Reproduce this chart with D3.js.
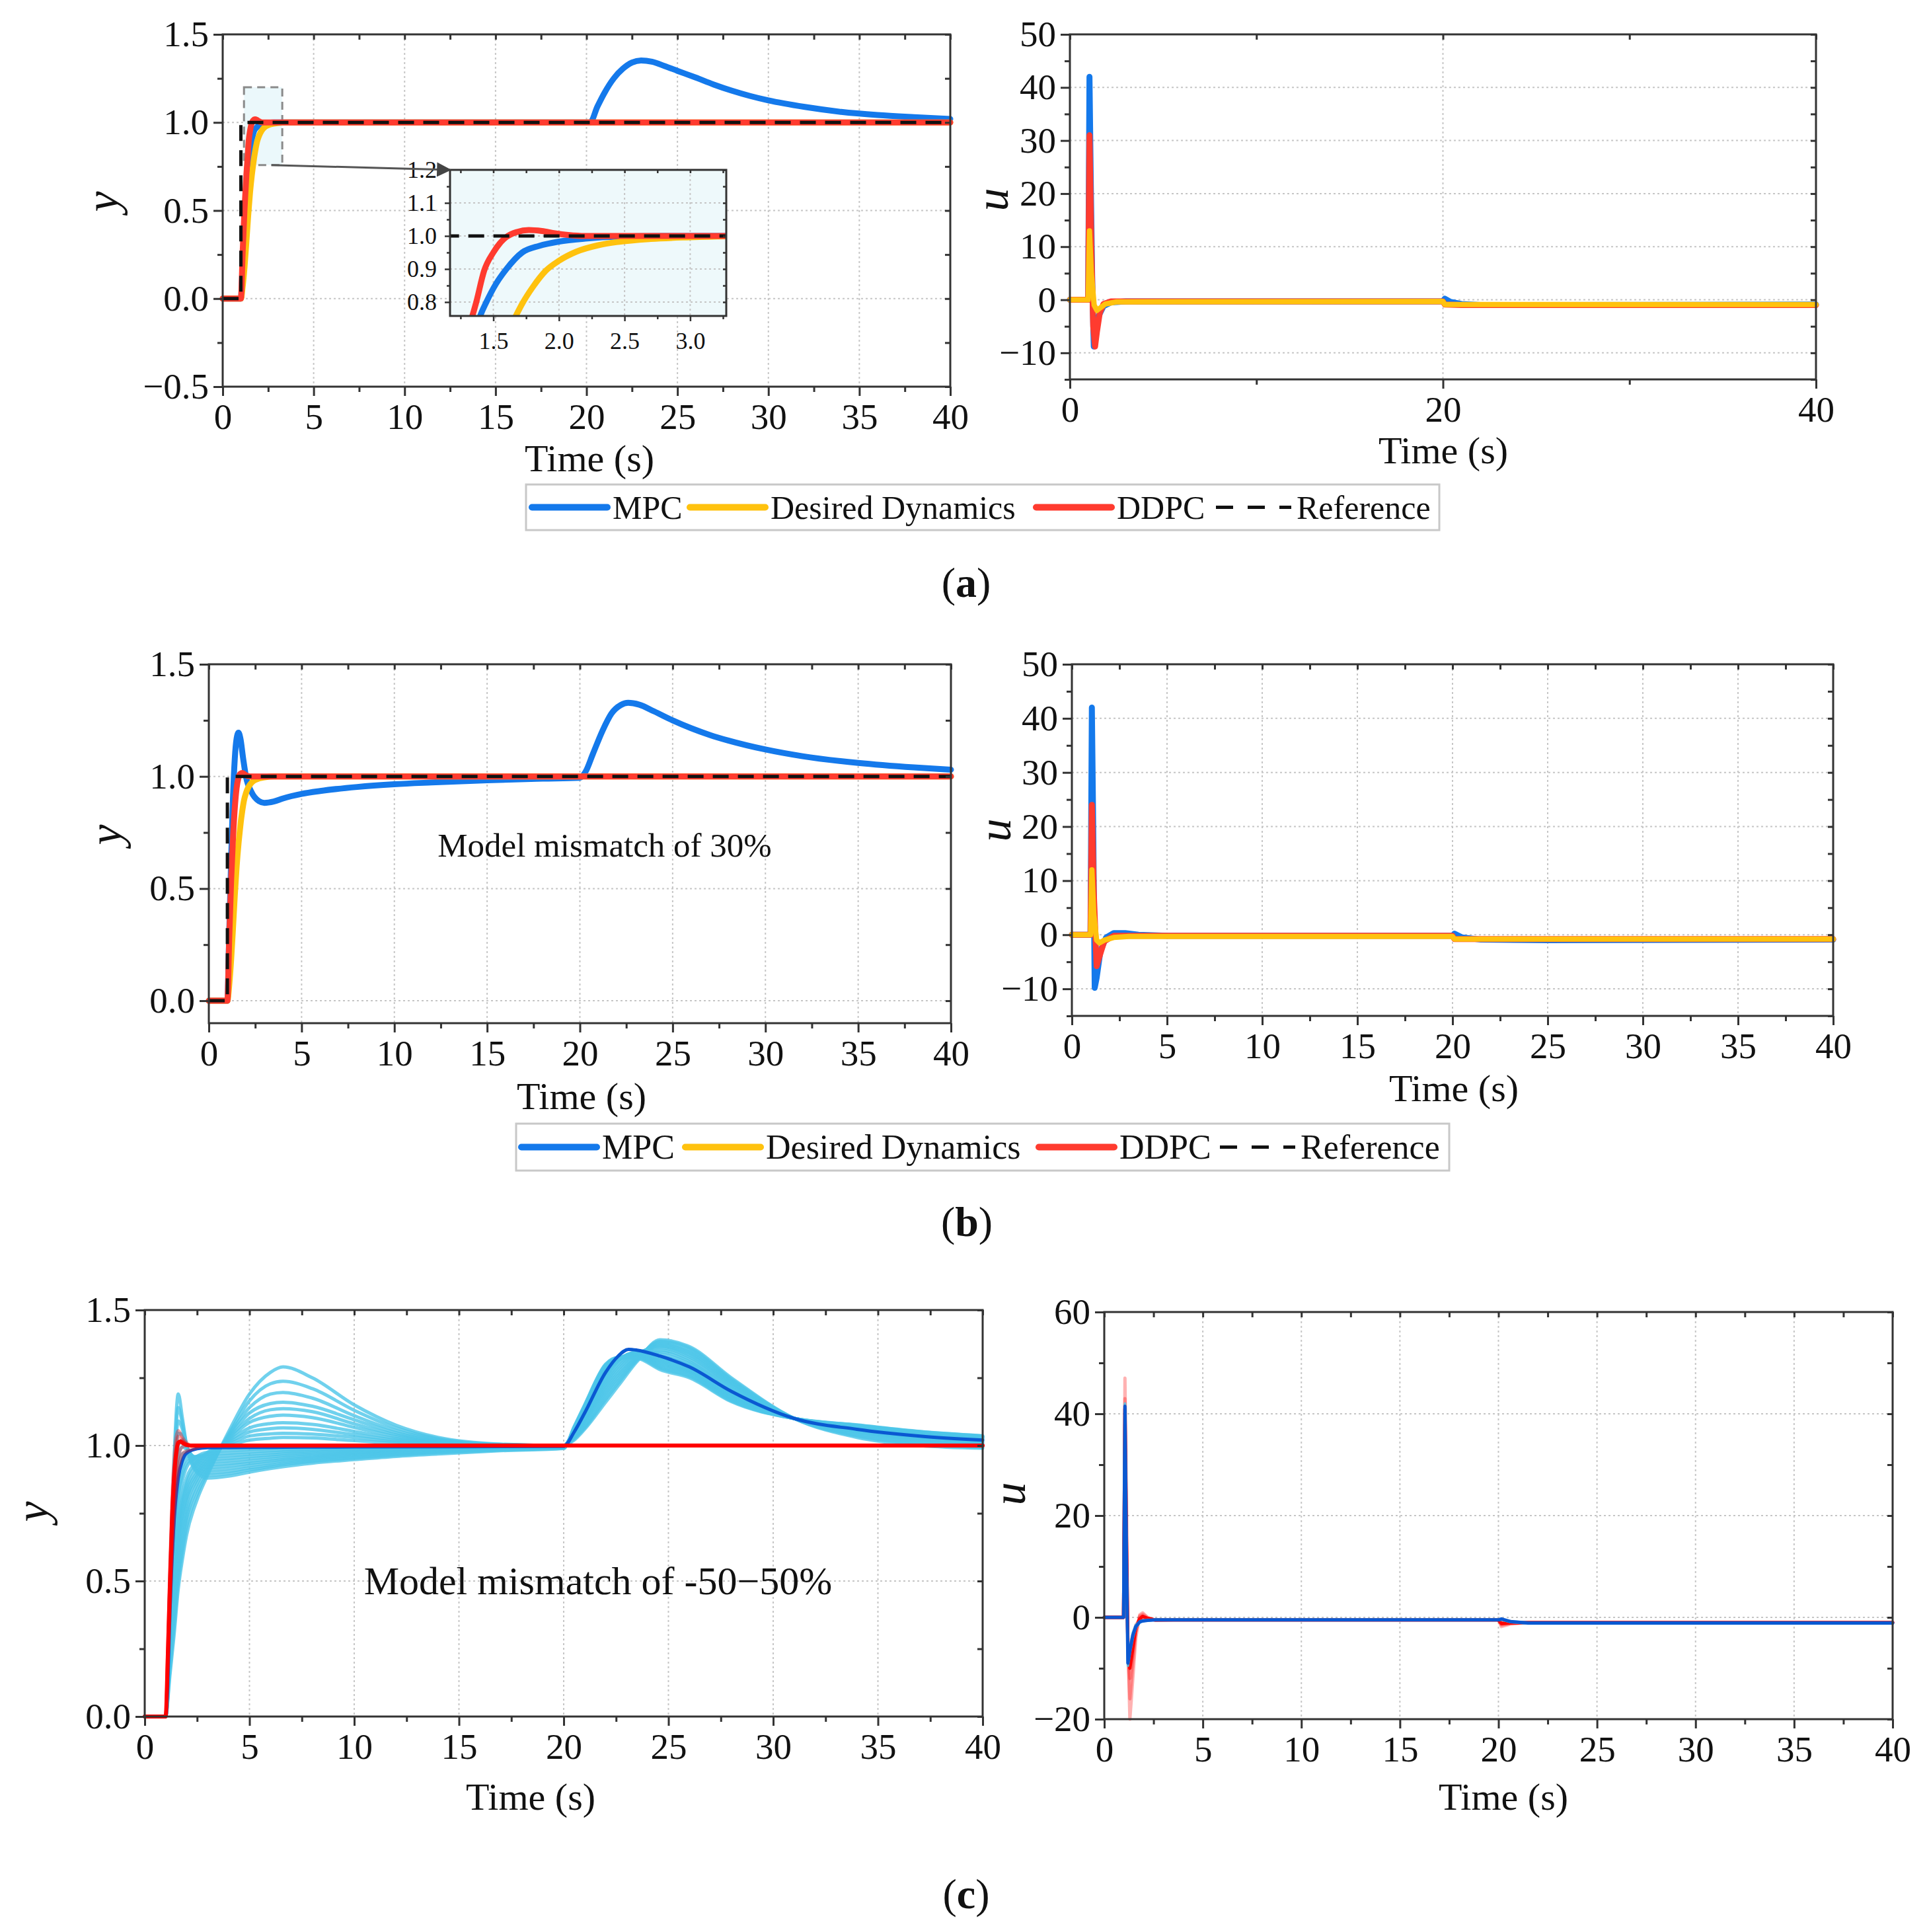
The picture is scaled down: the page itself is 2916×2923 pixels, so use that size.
<!DOCTYPE html>
<html>
<head>
<meta charset="utf-8">
<script src="https://cdn.jsdelivr.net/npm/d3@7"></script>
<style>
  body { margin: 0; background: #fff; }
  svg { display: block; }
</style>
</head>
<body>
<div id="chart"></div>
<script>
// ---------------------------------------------
// ---------          Data             ---------
// ---------------------------------------------

const legendNames = ["MPC", "Desired Dynamics", "DDPC", "Reference"];
const refStep = [[0, 0], [1, 0], [1, 1], [40, 1]];

// (a) output y
const aMpcY = [[0,0],[1,0],[1.1,0.2],[1.2,0.41],[1.3,0.6],[1.4,0.758],[1.447,0.8],[1.52,0.855],[1.6,0.9],[1.72,0.95],
  [1.85,0.97],[2.0,0.983],[2.2,0.992],[2.45,0.998],[2.8,1.0],[20,1.0],[20.2,1.0],[20.6,1.09],[21,1.17],[21.5,1.25],
  [22,1.305],[22.5,1.34],[23,1.352],[23.6,1.345],[24.3,1.32],[25,1.293],[26,1.255],[27,1.215],[28,1.18],[29,1.15],
  [30,1.125],[32,1.088],[34,1.06],[36,1.042],[38,1.03],[40,1.02]];
const aDesY = [[0,0],[1,0],[1.1,0.07],[1.2,0.18],[1.3,0.32],[1.4,0.47],[1.5,0.6],[1.6,0.7],[1.67,0.757],[1.72,0.795],
  [1.8,0.845],[1.9,0.895],[2.0,0.925],[2.13,0.952],[2.3,0.972],[2.45,0.982],[2.7,0.991],[3.0,0.996],[3.5,1.0],[40,1.0]];
const aDdpcY = [[0,0],[1,0],[1.1,0.27],[1.2,0.51],[1.3,0.7],[1.37,0.8],[1.43,0.895],[1.5,0.95],[1.55,0.978],[1.6,0.997],
  [1.68,1.012],[1.77,1.018],[1.87,1.015],[1.97,1.008],[2.07,1.003],[2.2,1.0],[40,1.0]];

// (a) input u
const aMpcU = [[0,0],[0.98,0],[1.05,42],[1.12,22],[1.2,3],[1.28,-8.8],[1.38,-7],[1.55,-3],[1.8,-1.2],[2.2,-0.5],[3,-0.3],
  [20,-0.3],[20.1,0.2],[20.4,-0.4],[21,-0.8],[22,-1.0],[25,-1.0],[40,-0.9]];
const aDdpcU = [[0,0],[0.98,0],[1.05,31],[1.15,10],[1.25,-5],[1.35,-8.8],[1.45,-6],[1.6,-2.5],[1.8,-0.8],[2.2,-0.3],
  [20,-0.3],[20.1,-0.9],[21,-1.0],[40,-1.0]];
const aDesU = [[0,0],[0.98,0],[1.05,13],[1.15,5],[1.3,-1.0],[1.45,-2.0],[1.6,-1.6],[1.9,-0.8],[2.5,-0.4],[20,-0.3],
  [20.1,-0.9],[40,-0.9]];

// (b) output y (30% mismatch)
const bMpcY = [[0,0],[1,0],[1.1,0.3],[1.2,0.62],[1.3,0.9],[1.4,1.08],[1.5,1.17],[1.6,1.195],[1.7,1.17],[1.85,1.08],
  [2.0,1.0],[2.3,0.93],[2.7,0.89],[3.0,0.882],[3.5,0.888],[4,0.902],[5,0.922],[6,0.935],[8,0.953],[10,0.965],[12,0.973],
  [15,0.983],[18,0.99],[20,0.994],[20.3,1.02],[20.7,1.1],[21.2,1.2],[21.7,1.28],[22.2,1.318],[22.6,1.328],[23.2,1.32],
  [24,1.29],[25,1.25],[26,1.215],[27,1.185],[28,1.16],[30,1.12],[32,1.09],[35,1.06],[38,1.04],[40,1.03]];
const bDesY = aDesY;
const bDdpcY = [[0,0],[1,0],[1.1,0.28],[1.2,0.53],[1.3,0.72],[1.4,0.86],[1.5,0.95],[1.6,0.995],[1.7,1.012],[1.8,1.015],
  [1.95,1.008],[2.1,1.002],[2.3,1.0],[40,1.0]];

// (b) input u
const bMpcU = [[0,0],[0.98,0],[1.05,42],[1.12,20],[1.2,-9.8],[1.3,-8],[1.5,-3],[1.8,-0.5],[2.2,0.3],[2.8,0.3],[3.5,0],
  [5,-0.2],[20,-0.2],[20.1,0.2],[20.5,-0.5],[21.5,-0.9],[25,-1.0],[40,-0.9]];
const bDdpcU = [[0,0],[0.98,0],[1.05,24],[1.15,8],[1.3,-5.8],[1.45,-4],[1.7,-1.2],[2.2,-0.2],[3,-0.2],[20,-0.2],
  [20.1,-0.8],[40,-0.8]];
const bDesU = [[0,0],[0.98,0],[1.05,12],[1.15,4],[1.3,-1],[1.45,-1.5],[1.7,-1.0],[2.2,-0.5],[3,-0.3],[20,-0.3],
  [20.1,-0.8],[40,-0.8]];

// (c) output y, MPC with mismatch -50..50% (one row per case)
const cTimes = [0,1,1.2,1.4,1.6,1.8,2,2.5,3,4,5,6,6.6,8,10,12,14,17,20,20.5,21,22,22.6,23.5,24.6,26,28,31,34,37,40];
const cMpcFamily = [
  [0,0,.15,.30,.47,.58,.67,.80,.89,1.05,1.19,1.27,1.29,1.25,1.15,1.075,1.03,1.005,1.0, 1.02,1.06,1.16,1.22,1.31,1.39,1.365,1.25,1.10,1.03,1.0,0.99],
  [0,0,.17,.33,.50,.61,.70,.82,.90,1.04,1.165,1.228,1.237,1.21,1.13,1.065,1.026,1.004,1.0, 1.025,1.065,1.17,1.23,1.315,1.385,1.36,1.245,1.10,1.035,1.005,0.993],
  [0,0,.19,.36,.53,.64,.73,.84,.91,1.035,1.14,1.19,1.196,1.175,1.11,1.055,1.022,1.003,1.0, 1.028,1.07,1.18,1.24,1.32,1.38,1.353,1.24,1.10,1.04,1.01,0.996],
  [0,0,.21,.39,.56,.67,.75,.86,.92,1.03,1.12,1.155,1.16,1.145,1.095,1.047,1.018,1.002,1.0, 1.03,1.078,1.19,1.25,1.325,1.375,1.346,1.235,1.10,1.045,1.015,1.0],
  [0,0,.23,.42,.59,.70,.78,.875,.93,1.025,1.1,1.132,1.136,1.125,1.08,1.04,1.015,1.002,1.0, 1.033,1.085,1.20,1.26,1.33,1.37,1.34,1.23,1.10,1.05,1.02,1.004],
  [0,0,.25,.45,.62,.73,.80,.89,.94,1.02,1.085,1.108,1.112,1.103,1.067,1.033,1.012,1.001,1.0, 1.036,1.09,1.21,1.27,1.335,1.365,1.333,1.225,1.10,1.053,1.024,1.008],
  [0,0,.27,.48,.65,.75,.82,.90,.95,1.015,1.065,1.081,1.084,1.078,1.052,1.026,1.01,1.001,1.0, 1.04,1.097,1.22,1.28,1.34,1.36,1.326,1.22,1.10,1.056,1.028,1.012],
  [0,0,.29,.51,.67,.78,.84,.915,.96,1.01,1.05,1.062,1.065,1.06,1.04,1.02,1.008,1.0,1.0, 1.043,1.103,1.23,1.29,1.342,1.352,1.318,1.213,1.10,1.059,1.031,1.015],
  [0,0,.31,.54,.70,.80,.86,.93,.97,1.005,1.035,1.043,1.045,1.042,1.03,1.014,1.006,1.0,1.0, 1.046,1.11,1.24,1.30,1.344,1.345,1.31,1.207,1.10,1.062,1.034,1.018],
  [0,0,.33,.57,.72,.82,.88,.94,.975,1.0,1.02,1.027,1.03,1.028,1.018,1.009,1.003,1.0,1.0, 1.05,1.115,1.25,1.31,1.345,1.338,1.303,1.2,1.10,1.064,1.037,1.021],
  [0,0,.35,.62,.78,.87,.92,.96,.975,.982,.986,.989,.99,.993,.995,.997,.998,.999,1.0, 1.053,1.12,1.26,1.315,1.343,1.33,1.295,1.193,1.10,1.066,1.04,1.024],
  [0,0,.365,.65,.815,.895,.935,.96,.967,.972,.977,.981,.983,.987,.99,.993,.995,.997,.999, 1.054,1.123,1.265,1.316,1.342,1.325,1.291,1.19,1.10,1.067,1.041,1.025],
  [0,0,.38,.68,.85,.92,.95,.96,.96,.963,.968,.973,.976,.981,.986,.99,.993,.996,.998, 1.056,1.127,1.27,1.318,1.34,1.32,1.287,1.187,1.10,1.068,1.043,1.027],
  [0,0,.395,.715,.885,.945,.962,.955,.95,.953,.96,.965,.969,.975,.981,.986,.99,.994,.997, 1.058,1.13,1.275,1.319,1.338,1.315,1.283,1.184,1.10,1.069,1.045,1.029],
  [0,0,.41,.75,.92,.97,.975,.95,.94,.944,.951,.958,.962,.969,.976,.982,.987,.992,.996, 1.06,1.133,1.28,1.32,1.336,1.31,1.278,1.18,1.10,1.07,1.046,1.03],
  [0,0,.425,.785,.96,.995,.985,.943,.93,.934,.942,.95,.955,.963,.972,.979,.984,.99,.994, 1.062,1.137,1.285,1.321,1.334,1.305,1.274,1.177,1.10,1.071,1.047,1.031],
  [0,0,.44,.82,1.0,1.02,.995,.935,.92,.925,.934,.943,.948,.957,.967,.975,.981,.988,.993, 1.063,1.14,1.29,1.322,1.332,1.30,1.27,1.174,1.10,1.072,1.048,1.032],
  [0,0,.455,.85,1.045,1.04,.998,.925,.91,.915,.926,.936,.942,.952,.963,.972,.979,.987,.992, 1.065,1.143,1.292,1.322,1.33,1.295,1.265,1.171,1.10,1.073,1.049,1.033],
  [0,0,.47,.88,1.09,1.06,1.0,.915,.90,.905,.917,.928,.935,.946,.958,.968,.976,.985,.991, 1.066,1.145,1.295,1.323,1.327,1.29,1.26,1.168,1.10,1.074,1.05,1.034],
  [0,0,.485,.915,1.14,1.08,1.0,.907,.89,.896,.91,.922,.929,.941,.953,.964,.973,.983,.99, 1.068,1.148,1.298,1.324,1.325,1.285,1.255,1.165,1.10,1.075,1.051,1.035],
  [0,0,.50,.95,1.19,1.10,1.0,.90,.88,.887,.902,.915,.922,.935,.948,.96,.969,.981,.989, 1.07,1.15,1.30,1.325,1.322,1.28,1.25,1.162,1.10,1.076,1.052,1.036]
];
const cMpcNominalY = [[0,0],[1,0],[1.1,0.12],[1.2,0.38],[1.4,0.72],[1.6,0.88],[1.8,0.945],[2,0.972],[2.5,0.988],[3,0.992],
  [10,0.995],[20,0.997],[20.5,1.05],[21,1.12],[22,1.27],[22.6,1.33],[23.1,1.355],[23.5,1.352],[24.6,1.33],[26,1.29],
  [28,1.2],[31,1.1],[34,1.06],[37,1.035],[40,1.02]];
const cDdpcTimes = [0,1,1.1,1.2,1.3,1.4,1.5,1.6,1.7,1.8,2.0,2.2,2.5,3,20,40];
const cDdpcFamily = [
  [0,0,0.25,0.55,0.8,0.95,1.03,1.055,1.045,1.03,1.01,1.0,1.0,1.0,1.0,1.0],
  [0,0,0.23,0.5,0.75,0.9,0.99,1.035,1.03,1.02,1.005,1.0,1.0,1.0,1.0,1.0],
  [0,0,0.21,0.46,0.7,0.86,0.95,1.0,1.015,1.015,1.005,1.0,1.0,1.0,1.0,1.0],
  [0,0,0.19,0.42,0.64,0.8,0.9,0.96,0.985,0.995,1.0,1.0,1.0,1.0,1.0,1.0],
  [0,0,0.17,0.38,0.58,0.73,0.84,0.91,0.95,0.97,0.98,0.985,0.992,0.998,1.0,1.0]
];
const cDdpcNominalY = [0,0,0.22,0.48,0.72,0.88,0.97,1.01,1.015,1.01,1.002,1.0,1.0,1.0,1.0,1.0];

// (c) input u
const cUTimes = [0,0.98,1.05,1.12,1.2,1.3,1.45,1.6,1.8,1.95,2.2,2.6,3.5,20,20.15,20.6,21.5,40];
const cDdpcUFamily = [
  [0,0,47,25,-5,-20,-12,-4,0.5,0.9,0,-0.6,-0.5,-0.5,-1.8,-1.3,-1.0,-1.0],
  [0,0,43,20,-6,-16,-9,-3,0.3,0.6,-0.1,-0.6,-0.5,-0.5,-1.5,-1.2,-1.0,-1.0],
  [0,0,38,16,-6,-12,-7,-2.5,0,0.3,-0.2,-0.5,-0.5,-0.5,-1.3,-1.1,-1.0,-1.0],
  [0,0,33,12,-6,-9,-5,-2,-0.3,0,-0.3,-0.5,-0.5,-0.5,-1.1,-1.0,-1.0,-1.0],
  [0,0,29,9,-5,-7,-4,-1.5,-0.5,-0.3,-0.4,-0.5,-0.5,-0.5,-1.0,-1.0,-1.0,-1.0]
];
const cDdpcNominalU = [0,0,41,17,-6,-10,-6,-2,-0.3,0.2,-0.2,-0.5,-0.5,-0.5,-1.2,-1.1,-1.0,-1.0];
const cMpcUFamily = [
  [0,0,42,15,-9.5,-7,-4,-2,-1,-0.7,-0.6,-0.5,-0.5,-0.5,-0.4,-0.9,-1.2,-1.2],
  [0,0,41,14,-9,-6.5,-3.5,-1.8,-0.9,-0.7,-0.6,-0.5,-0.5,-0.5,-0.4,-0.9,-1.1,-1.1],
  [0,0,40,13,-8.5,-6,-3,-1.5,-0.8,-0.6,-0.5,-0.5,-0.5,-0.5,-0.4,-0.8,-1.0,-1.0]
];
const cMpcNominalU = [0,0,41.5,14,-9,-6.5,-3.5,-1.8,-0.9,-0.7,-0.6,-0.5,-0.5,-0.5,-0.3,-0.8,-1.1,-1.1];

// tick values
const timeTicks5 = [0,5,10,15,20,25,30,35,40];
const timeMinor = [2.5,7.5,12.5,17.5,22.5,27.5,32.5,37.5];
const timeGrid = [5,10,15,20,25,30,35];
const uTicks = [-10,0,10,20,30,40,50];
const uMinor = [-15,-5,5,15,25,35,45];
const uGrid = [-10,0,10,20,30,40];

// ---------------------------------------------
// ---------    Basic Chart Layout      --------
// ---------------------------------------------

const SERIF = '"Liberation Serif","Times New Roman",serif';
const col = { mpc: "#1479eb", des: "#ffc20e", ddpc: "#ff3b2f", ref: "#111111",
              cyan: "#4cc6e8", darkBlue: "#0a58d2", red: "#ff0000" };
const legendColors = [col.mpc, col.des, col.ddpc, col.ref];

const svg = d3.select("#chart").append("svg")
  .attr("width", 2916).attr("height", 2923)
  .style("background", "#fff");
const defs = svg.append("defs");

function makePanel(box, xd, yd, o) {
  const w = box.r - box.l, h = box.b - box.t;
  const g = svg.append("g").attr("transform", "translate(" + box.l + "," + box.t + ")");
  const x = d3.scaleLinear().domain(xd).range([0, w]);
  const y = d3.scaleLinear().domain(yd).range([h, 0]);
  if (o.bg) g.append("rect").attr("width", w).attr("height", h).attr("fill", o.bg);
  const grid = g.append("g")
    .attr("stroke", "#c6c6c6").attr("stroke-width", o.gw || 2).attr("stroke-dasharray", "3,4");
  grid.selectAll(".gx").data(o.xGrid).join("line").attr("class", "gx")
    .attr("x1", d => x(d)).attr("x2", d => x(d)).attr("y1", 0).attr("y2", h);
  grid.selectAll(".gy").data(o.yGrid).join("line").attr("class", "gy")
    .attr("y1", d => y(d)).attr("y2", d => y(d)).attr("x1", 0).attr("x2", w);
  const layer = g.append("g");
  if (o.clip) {
    defs.append("clipPath").attr("id", o.clip).append("rect").attr("width", w).attr("height", h);
    layer.attr("clip-path", "url(#" + o.clip + ")");
  }
  return { g, x, y, w, h, o, layer, box };
}

function finishPanel(P) {
  const { g, x, y, w, h, o } = P;
  const big = o.tick || 14, small = o.minor || 8, fs = o.fs || 55;
  const ax = g.append("g");
  ax.append("g").attr("transform", "translate(0," + h + ")")
    .call(d3.axisBottom(x).tickValues(o.xMinor).tickSize(small).tickFormat(""));
  ax.append("g").attr("transform", "translate(0," + h + ")")
    .call(d3.axisBottom(x).tickValues(o.xMajor).tickSize(big).tickPadding(o.padX || 11).tickFormat(o.fx));
  ax.append("g").call(d3.axisLeft(y).tickValues(o.yMinor).tickSize(small).tickFormat(""));
  ax.append("g").call(d3.axisLeft(y).tickValues(o.yMajor).tickSize(big).tickPadding(o.padY || 7).tickFormat(o.fy));
  ax.append("g").call(d3.axisTop(x).tickValues(o.xMajor.concat(o.xMinor)).tickSize(-small).tickFormat(""));
  ax.append("g").attr("transform", "translate(" + w + ",0)")
    .call(d3.axisRight(y).tickValues(o.yMajor.concat(o.yMinor)).tickSize(-small).tickFormat(""));
  ax.selectAll(".domain").remove();
  ax.selectAll(".tick line").attr("stroke", "#333").attr("stroke-width", o.tw || 3);
  ax.selectAll(".tick text").attr("font-size", fs).attr("font-family", SERIF).attr("fill", "#111");
  g.append("rect").attr("width", w).attr("height", h)
    .attr("fill", "none").attr("stroke", "#333").attr("stroke-width", o.fw || 3);
}

function drawLine(P, data, color, width, opt) {
  opt = opt || {};
  const line = d3.line()
    .x(d => P.x(d[0])).y(d => P.y(d[1]))
    .curve(opt.linear ? d3.curveLinear : d3.curveMonotoneX);
  return P.layer.append("path").datum(data)
    .attr("d", line)
    .attr("fill", "none")
    .attr("stroke", color)
    .attr("stroke-width", width)
    .attr("stroke-opacity", opt.op == null ? 1 : opt.op)
    .attr("stroke-linejoin", "round")
    .attr("stroke-linecap", opt.dash ? "butt" : "round")
    .attr("stroke-dasharray", opt.dash || null);
}

function rows(times, vals) {
  return times.map((t, i) => [t, vals[i]]);
}

function label(x, y, s, fs, opt) {
  opt = opt || {};
  const t = svg.append("text")
    .attr("x", x).attr("y", y)
    .attr("font-size", fs).attr("font-family", SERIF).attr("fill", "#111")
    .attr("text-anchor", opt.anchor || "middle")
    .text(s);
  if (opt.italic) t.attr("font-style", "italic");
  if (opt.rot) t.attr("transform", "rotate(-90," + x + "," + y + ")");
  return t;
}

function drawLegend(box, offs, fs) {
  const w = box.r - box.l, h = box.b - box.t, cy = h / 2;
  const g = svg.append("g").attr("transform", "translate(" + box.l + "," + box.t + ")");
  g.append("rect").attr("width", w).attr("height", h)
    .attr("fill", "#fff").attr("stroke", "#c8c8c8").attr("stroke-width", 3);
  legendNames.forEach((name, i) => {
    const isRef = i === 3;
    g.append("line")
      .attr("x1", offs[i]).attr("x2", offs[i] + 114).attr("y1", cy).attr("y2", cy)
      .attr("stroke", legendColors[i])
      .attr("stroke-width", isRef ? 5 : 10)
      .attr("stroke-linecap", isRef ? "butt" : "round")
      .attr("stroke-dasharray", isRef ? "26,22" : null);
    g.append("text")
      .attr("x", offs[i] + 122).attr("y", cy + fs * 0.34)
      .attr("font-size", fs).attr("font-family", SERIF).attr("fill", "#111")
      .text(name);
  });
}

const f1 = d3.format(".1f");
const f0 = d3.format("d");
const DASH = "24,14";

// ---------------------------------------------
// ---------       Panel (a)            --------
// ---------------------------------------------

const aL = makePanel({ l: 337, r: 1438, t: 52, b: 585 }, [0, 40], [-0.5, 1.5], {
  xMajor: timeTicks5, xMinor: timeMinor, xGrid: timeGrid,
  yMajor: [-0.5, 0, 0.5, 1, 1.5], yMinor: [-0.25, 0.25, 0.75, 1.25], yGrid: [0, 0.5, 1],
  fx: f0, fy: f1
});
// zoom window
const zoomX = [1.17, 3.275], zoomY = [0.758, 1.2];
aL.layer.append("rect")
  .attr("x", aL.x(zoomX[0])).attr("y", aL.y(zoomY[1]))
  .attr("width", aL.x(zoomX[1]) - aL.x(zoomX[0])).attr("height", aL.y(zoomY[0]) - aL.y(zoomY[1]))
  .attr("fill", "#e6f6fa").attr("fill-opacity", 0.8)
  .attr("stroke", "#8a8a8a").attr("stroke-width", 3).attr("stroke-dasharray", "12,8");
drawLine(aL, aMpcY, col.mpc, 9);
drawLine(aL, aDesY, col.des, 9);
drawLine(aL, aDdpcY, col.ddpc, 9);
drawLine(aL, refStep, col.ref, 5, { linear: true, dash: DASH });
finishPanel(aL);

// inset
const ins = makePanel({ l: 681, r: 1099, t: 257, b: 478 }, zoomX, zoomY, {
  bg: "#eef9fb", clip: "insetClip",
  xMajor: [1.5, 2, 2.5, 3], xMinor: [1.25, 1.75, 2.25, 2.75, 3.25], xGrid: [1.5, 2, 2.5, 3],
  yMajor: [0.8, 0.9, 1.0, 1.1, 1.2], yMinor: [0.85, 0.95, 1.05, 1.15], yGrid: [0.8, 0.9, 1.0, 1.1],
  fx: f1, fy: f1, fs: 36, tick: 8, minor: 5, padX: 16, padY: 12, tw: 2.5
});
drawLine(ins, aMpcY, col.mpc, 9);
drawLine(ins, aDesY, col.des, 9);
drawLine(ins, aDdpcY, col.ddpc, 9);
drawLine(ins, refStep, col.ref, 5, { linear: true, dash: DASH });
finishPanel(ins);

// arrow from zoom window to inset
defs.append("marker").attr("id", "arrowHead")
  .attr("viewBox", "0 0 10 10").attr("refX", 9).attr("refY", 5)
  .attr("markerWidth", 30).attr("markerHeight", 22).attr("orient", "auto").attr("markerUnits", "userSpaceOnUse")
  .append("path").attr("d", "M0,0 L10,5 L0,10 z").attr("fill", "#444");
svg.append("line")
  .attr("x1", aL.box.l + aL.x(2.67)).attr("y1", aL.box.t + aL.y(zoomY[0]))
  .attr("x2", ins.box.l).attr("y2", ins.box.t)
  .attr("stroke", "#555").attr("stroke-width", 3)
  .attr("marker-end", "url(#arrowHead)");

const aR = makePanel({ l: 1619, r: 2748, t: 52, b: 574 }, [0, 40], [-15, 50], {
  xMajor: [0, 20, 40], xMinor: [10, 30], xGrid: [20],
  yMajor: uTicks, yMinor: uMinor, yGrid: uGrid,
  fx: f0, fy: f0
});
drawLine(aR, aMpcU, col.mpc, 9, { linear: true });
drawLine(aR, aDdpcU, col.ddpc, 9, { linear: true });
drawLine(aR, aDesU, col.des, 8, { linear: true });
finishPanel(aR);

drawLegend({ l: 796, r: 2178, t: 733, b: 802 }, [9, 248, 772, 1044], 50);

// ---------------------------------------------
// ---------       Panel (b)            --------
// ---------------------------------------------

const bL = makePanel({ l: 316, r: 1439, t: 1005, b: 1548 }, [0, 40], [-0.1, 1.5], {
  xMajor: timeTicks5, xMinor: timeMinor, xGrid: timeGrid,
  yMajor: [0, 0.5, 1, 1.5], yMinor: [0.25, 0.75, 1.25], yGrid: [0, 0.5, 1],
  fx: f0, fy: f1
});
drawLine(bL, bMpcY, col.mpc, 9);
drawLine(bL, bDesY, col.des, 9);
drawLine(bL, bDdpcY, col.ddpc, 9);
drawLine(bL, refStep, col.ref, 5, { linear: true, dash: DASH });
finishPanel(bL);
label(915, 1296, "Model mismatch of 30%", 51);

const bR = makePanel({ l: 1622, r: 2774, t: 1005, b: 1537 }, [0, 40], [-15, 50], {
  xMajor: timeTicks5, xMinor: timeMinor, xGrid: timeGrid,
  yMajor: uTicks, yMinor: uMinor, yGrid: uGrid,
  fx: f0, fy: f0
});
drawLine(bR, bMpcU, col.mpc, 9, { linear: true });
drawLine(bR, bDdpcU, col.ddpc, 9, { linear: true });
drawLine(bR, bDesU, col.des, 8, { linear: true });
finishPanel(bR);

drawLegend({ l: 781, r: 2193, t: 1700, b: 1771 }, [8, 256, 791, 1065], 52);

// ---------------------------------------------
// ---------       Panel (c)            --------
// ---------------------------------------------

const cL = makePanel({ l: 219, r: 1487, t: 1982, b: 2597 }, [0, 40], [0, 1.5], {
  xMajor: timeTicks5, xMinor: timeMinor, xGrid: timeGrid,
  yMajor: [0, 0.5, 1, 1.5], yMinor: [0.25, 0.75, 1.25], yGrid: [0.5, 1],
  fx: f0, fy: f1
});
cMpcFamily.forEach(r => drawLine(cL, rows(cTimes, r), col.cyan, 5, { op: 0.8 }));
drawLine(cL, cMpcNominalY, col.darkBlue, 5);
cDdpcFamily.forEach(r => drawLine(cL, rows(cDdpcTimes, r), col.red, 5, { op: 0.35 }));
drawLine(cL, rows(cDdpcTimes, cDdpcNominalY), col.red, 6);
finishPanel(cL);
label(905, 2412, "Model mismatch of -50\u221250%", 60);

const cR = makePanel({ l: 1671, r: 2864, t: 1985, b: 2601 }, [0, 40], [-20, 60], {
  xMajor: timeTicks5, xMinor: timeMinor, xGrid: timeGrid,
  yMajor: [-20, 0, 20, 40, 60], yMinor: [-10, 10, 30, 50], yGrid: [0, 20, 40],
  fx: f0, fy: f0
});
cDdpcUFamily.forEach(r => drawLine(cR, rows(cUTimes, r), col.red, 5, { linear: true, op: 0.3 }));
drawLine(cR, rows(cUTimes, cDdpcNominalU), col.red, 5, { linear: true });
cMpcUFamily.forEach(r => drawLine(cR, rows(cUTimes, r), col.cyan, 4, { linear: true, op: 0.8 }));
drawLine(cR, rows(cUTimes, cMpcNominalU), col.darkBlue, 5, { linear: true });
finishPanel(cR);

// ---------------------------------------------
// ---------     Axis titles / tags     --------
// ---------------------------------------------

[[892, 713], [2184, 701], [880, 1678], [2200, 1666], [803, 2738], [2275, 2738]]
  .forEach(p => label(p[0], p[1], "Time (s)", 58));

[[178, 305], [183, 1263], [72, 2287]].forEach(p => label(p[0], p[1], "y", 70, { italic: true, rot: true }));
[[1525, 302], [1529, 1256], [1551, 2260]].forEach(p => label(p[0], p[1], "u", 70, { italic: true, rot: true }));

[["a", 1462, 903], ["b", 1463, 1870], ["c", 1462, 2887]].forEach(p => {
  const t = svg.append("text").attr("x", p[1]).attr("y", p[2])
    .attr("font-size", 64).attr("font-family", SERIF).attr("fill", "#111").attr("text-anchor", "middle");
  t.append("tspan").text("(");
  t.append("tspan").attr("font-weight", "bold").text(p[0]);
  t.append("tspan").text(")");
});
</script>
</body>
</html>
